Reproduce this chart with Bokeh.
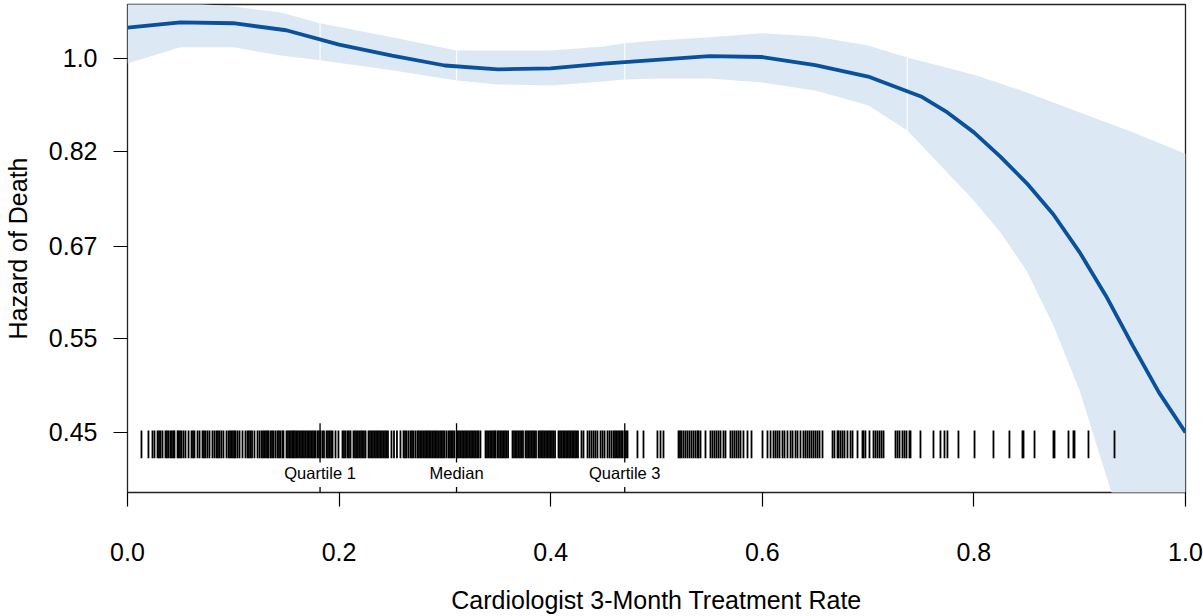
import numpy as np
from bokeh.plotting import figure
from bokeh.models import Range1d, FixedTicker, CustomJSTickFormatter
from bokeh.core.properties import value
from bokeh.embed import file_html
from bokeh.resources import INLINE

# ---- data ----
curve_x = [0.00, 0.05, 0.10, 0.15, 0.20, 0.25, 0.30, 0.35, 0.40, 0.45, 0.50, 0.55, 0.60,
           0.65, 0.70, 0.75, 0.775, 0.80, 0.825, 0.85, 0.875, 0.90, 0.925, 0.95, 0.975, 1.00]
curve_hr = [1.068, 1.080, 1.078, 1.062, 1.030, 1.006, 0.985, 0.977, 0.979, 0.989, 0.997, 1.005, 1.003,
            0.986, 0.962, 0.922, 0.891, 0.854, 0.811, 0.766, 0.717, 0.661, 0.602, 0.542, 0.490, 0.450]

band_x = [0.0, 0.05, 0.1, 0.145, 0.182, 0.25, 0.311, 0.35, 0.4, 0.45, 0.47, 0.5, 0.55, 0.6,
          0.65, 0.7, 0.737, 0.8, 0.825, 0.85, 0.875, 0.9, 0.93, 0.95, 1.0]
band_upper = [1.14, 1.127, 1.117, 1.103, 1.078, 1.046, 1.017, 1.017, 1.017, 1.026, 1.033, 1.039, 1.046, 1.055,
              1.048, 1.028, 1.002, 0.966, 0.948, 0.930, 0.910, 0.891, 0.869, 0.854, 0.816]
band_lower = [0.989, 1.024, 1.024, 1.006, 0.996, 0.975, 0.954, 0.946, 0.944, 0.952, 0.956, 0.958, 0.958, 0.950,
              0.934, 0.905, 0.858, 0.738, 0.690, 0.635, 0.566, 0.492, 0.396, 0.352, 0.25]

seam_x = [0.182, 0.311, 0.47, 0.737]

rug_x = [
    0.0132, 0.0198, 0.0236, 0.0255, 0.0284, 0.0298, 0.0312, 0.0331, 0.0359, 0.0373, 0.0388, 0.0406, 0.0420,
    0.0435, 0.0444, 0.0473, 0.0482, 0.0496, 0.0510, 0.0529, 0.0548, 0.0577, 0.0605, 0.0619, 0.0633, 0.0662,
    0.0681, 0.0709, 0.0723, 0.0737, 0.0756, 0.0775, 0.0803, 0.0822, 0.0841, 0.0855, 0.0870, 0.0888, 0.0907,
    0.0936, 0.0955, 0.0969, 0.0983, 0.0997, 0.1011, 0.1021, 0.1040, 0.1059, 0.1087, 0.1115, 0.1134, 0.1148,
    0.1163, 0.1177, 0.1200, 0.1229, 0.1248, 0.1267, 0.1281, 0.1295, 0.1309, 0.1323, 0.1333, 0.1352, 0.1366,
    0.1380, 0.1399, 0.1418, 0.1432, 0.1446, 0.1465, 0.1474, 0.1503, 0.1517, 0.1531, 0.1545, 0.1560, 0.1569,
    0.1583, 0.1597, 0.1611, 0.1626, 0.1640, 0.1654, 0.1668, 0.1682, 0.1697, 0.1711, 0.1725, 0.1739, 0.1753,
    0.1767, 0.1777, 0.1796, 0.1810, 0.1824, 0.1843, 0.1857, 0.1881, 0.1895, 0.1909, 0.1924, 0.1938, 0.1966,
    0.1994, 0.2032, 0.2046, 0.2060, 0.2079, 0.2093, 0.2108, 0.2136, 0.2150, 0.2164, 0.2178, 0.2193, 0.2207,
    0.2221, 0.2235, 0.2250, 0.2278, 0.2292, 0.2306, 0.2320, 0.2335, 0.2349, 0.2363, 0.2377, 0.2391, 0.2405,
    0.2420, 0.2434, 0.2448, 0.2462, 0.2495, 0.2519, 0.2547, 0.2580, 0.2609, 0.2623, 0.2637, 0.2656, 0.2675,
    0.2689, 0.2703, 0.2722, 0.2741, 0.2755, 0.2769, 0.2783, 0.2798, 0.2812, 0.2826, 0.2840, 0.2854, 0.2868,
    0.2883, 0.2897, 0.2911, 0.2925, 0.2939, 0.2954, 0.2968, 0.2982, 0.2996, 0.3015, 0.3034, 0.3048, 0.3062,
    0.3076, 0.3091, 0.3119, 0.3133, 0.3147, 0.3162, 0.3176, 0.3190, 0.3204, 0.3218, 0.3233, 0.3247, 0.3261,
    0.3275, 0.3289, 0.3304, 0.3318, 0.3336, 0.3384, 0.3398, 0.3412, 0.3427, 0.3441, 0.3455, 0.3469, 0.3478,
    0.3497, 0.3511, 0.3526, 0.3540, 0.3554, 0.3568, 0.3582, 0.3597, 0.3639, 0.3653, 0.3667, 0.3681, 0.3696,
    0.3710, 0.3724, 0.3738, 0.3762, 0.3776, 0.3790, 0.3804, 0.3819, 0.3833, 0.3847, 0.3861, 0.3885, 0.3899,
    0.3913, 0.3927, 0.3941, 0.3956, 0.3970, 0.3984, 0.3998, 0.4012, 0.4026, 0.4041, 0.4074, 0.4088, 0.4102,
    0.4117, 0.4131, 0.4145, 0.4159, 0.4173, 0.4187, 0.4202, 0.4216, 0.4230, 0.4244, 0.4258, 0.4291, 0.4310,
    0.4348, 0.4367, 0.4386, 0.4405, 0.4423, 0.4442, 0.4471, 0.4490, 0.4509, 0.4537, 0.4556, 0.4575, 0.4594,
    0.4608, 0.4622, 0.4636, 0.4650, 0.4665, 0.4679, 0.4698, 0.4712, 0.4726,
    0.4820, 0.4877, 0.5009, 0.5038, 0.5066, 0.5208, 0.5222, 0.5236, 0.5255, 0.5274, 0.5293, 0.5312, 0.5331,
    0.5350, 0.5369, 0.5388, 0.5397, 0.5416, 0.5463, 0.5510, 0.5529, 0.5548, 0.5567, 0.5586, 0.5605, 0.5633,
    0.5652, 0.5699, 0.5718, 0.5737, 0.5756, 0.5775, 0.5794, 0.5822, 0.5860, 0.5898, 0.6002, 0.6049, 0.6078,
    0.6106, 0.6125, 0.6144, 0.6163, 0.6191, 0.6210, 0.6238, 0.6267, 0.6286, 0.6314, 0.6333, 0.6361, 0.6389,
    0.6408, 0.6427, 0.6446, 0.6465, 0.6484, 0.6503, 0.6522, 0.6541, 0.6569, 0.6664, 0.6682, 0.6711, 0.6720,
    0.6739, 0.6758, 0.6777, 0.6805, 0.6834, 0.6853, 0.6900, 0.6947, 0.6957, 0.6975, 0.7013, 0.7051, 0.7070,
    0.7089, 0.7108, 0.7127, 0.7146, 0.7259, 0.7278, 0.7297, 0.7325, 0.7344, 0.7363, 0.7391, 0.7401, 0.7495,
    0.7618, 0.7684, 0.7722, 0.7750, 0.7854, 0.8006, 0.8185, 0.8336, 0.8459, 0.8469, 0.8573, 0.8752, 0.8762,
    0.8894, 0.8941, 0.8951, 0.9083, 0.9329]
rug_y = [0.426, 0.452]

quart_x = [0.182, 0.311, 0.470]
quart_labels = ["Quartile 1", "Median", "Quartile 3"]
quart_line_y = [0.422, 0.459]
quart_label_y = 0.413
quart_axis_tick_y = [0.3959, 0.4005]

x_ticks = [0.0, 0.2, 0.4, 0.6, 0.8, 1.0]
y_ticks = [0.45, 0.55, 0.67, 0.82, 1.0]

FONT = "Liberation Sans"
BAND = "#dde8f5"
LINE = "#0a519c"

p = figure(width=1203, height=616, y_axis_type="log",
           x_range=Range1d(0, 1), y_range=Range1d(0.3959, 1.122),
           output_backend="svg", toolbar_location=None,
           min_border_left=127, min_border_right=18, min_border_top=4, min_border_bottom=124)
p.grid.visible = False
p.outline_line_color = "#222222"
p.outline_line_width = 1.3
p.background_fill_color = "white"
p.border_fill_color = "white"

# confidence band
p.varea(x=band_x, y1=band_lower, y2=band_upper, fill_color=BAND)
seam_lo = np.exp(np.interp(seam_x, band_x, np.log(band_lower)))
seam_hi = np.exp(np.interp(seam_x, band_x, np.log(band_upper)))
p.segment(x0=seam_x, y0=seam_lo, x1=seam_x, y1=seam_hi, line_color="white", line_width=1.2, line_alpha=0.9)

# curve
p.line(curve_x, curve_hr, line_color=LINE, line_width=3.8)

# rug
n = len(rug_x)
p.segment(x0=rug_x, y0=[rug_y[0]] * n, x1=rug_x, y1=[rug_y[1]] * n, line_color="black", line_width=1.8)

# quartile markers
p.segment(x0=quart_x, y0=[quart_line_y[0]] * 3, x1=quart_x, y1=[quart_line_y[1]] * 3,
          line_color="black", line_width=1.3)
p.segment(x0=quart_x, y0=[quart_axis_tick_y[0]] * 3, x1=quart_x, y1=[quart_axis_tick_y[1]] * 3,
          line_color="black", line_width=1.3)
p.text(x=quart_x, y=[quart_label_y] * 3, text=quart_labels, text_align="center", text_baseline="middle",
       text_font=value(FONT), text_font_size="16.5px", text_color="black")

# axes
for ax in (p.xaxis[0], p.yaxis[0]):
    ax.major_tick_out = 14
    ax.major_tick_in = 0
    ax.minor_tick_out = 0
    ax.minor_tick_in = 0
    ax.major_tick_line_color = "black"
    ax.major_tick_line_width = 1.2
    ax.axis_line_color = None
    ax.major_label_text_font = FONT
    ax.major_label_text_font_size = "25px"
    ax.major_label_text_color = "black"
    ax.axis_label_text_font = FONT
    ax.axis_label_text_font_size = "25px"
    ax.axis_label_text_font_style = "normal"
    ax.axis_label_text_color = "black"

p.xaxis.ticker = FixedTicker(ticks=x_ticks)
p.xaxis.formatter = CustomJSTickFormatter(code="return tick.toFixed(1);")
p.xaxis.major_label_standoff = 36
p.xaxis.axis_label = "Cardiologist 3-Month Treatment Rate"
p.xaxis.axis_label_standoff = 22

p.yaxis.ticker = FixedTicker(ticks=y_ticks)
p.yaxis.formatter = CustomJSTickFormatter(code="return Math.abs(tick - 1) < 1e-9 ? '1.0' : tick.toFixed(2);")
p.yaxis.major_label_standoff = 16
p.yaxis.axis_label = "Hazard of Death"
p.yaxis.axis_label_standoff = 14

open("out.html", "w").write(file_html(p, INLINE))
